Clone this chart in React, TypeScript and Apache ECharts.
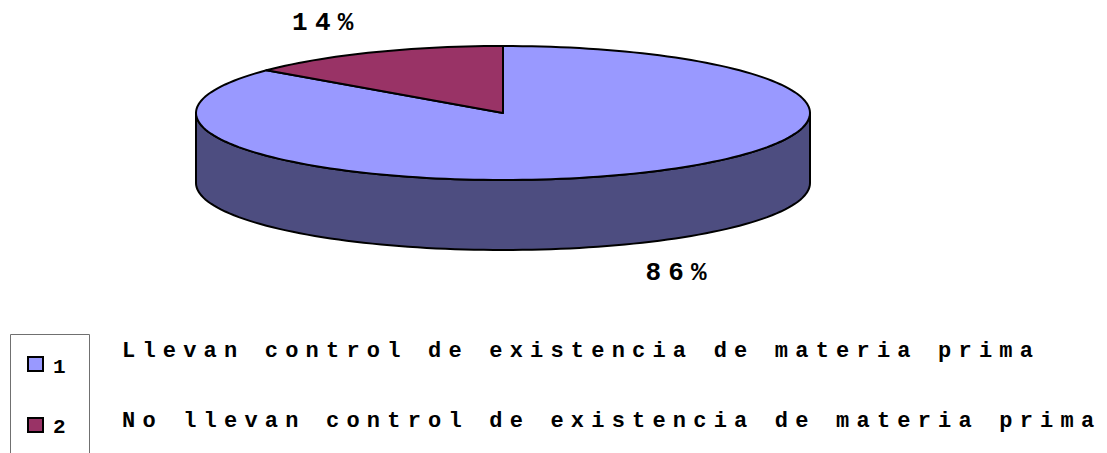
import React, { useEffect, useRef } from 'react';
import * as echarts from 'echarts';

const categories = ['1', '2'];
const descriptions = [
  'Llevan control de existencia de materia prima',
  'No llevan control de existencia de materia prima',
];
const values = [86, 14];
const topColors = ['#9999FF', '#993366'];
const sideColors = ['#4D4D80', '#4D1A33'];

const CX = 503;
const CY = 113;
const RX = 307;
const RY = 67;
const DEPTH = 70;
const LABEL_RX = 415;
const LABEL_RY = 100;
const MONO = 'Courier New, Liberation Mono, monospace';

const total = values.reduce((a, b) => a + b, 0);

function pt(t: number, dy = 0): number[] {
  return [CX + RX * Math.sin(t), CY - RY * Math.cos(t) + dy];
}

function arc(s: number, e: number, dy = 0): number[][] {
  const n = Math.max(2, Math.ceil(((e - s) / (Math.PI * 2)) * 200));
  const out: number[][] = [];
  for (let k = 0; k <= n; k++) out.push(pt(s + ((e - s) * k) / n, dy));
  return out;
}

export default function App() {
  const ref = useRef<HTMLDivElement>(null);
  useEffect(() => {
    if (!ref.current) return;
    const chart = echarts.init(ref.current, undefined, { renderer: 'svg' });
    const renderItem = (params: any, api: any) => {
      const idx = params.dataIndex;
      const v = api.value(0);
      let before = 0;
      for (let k = 0; k < idx; k++) before += values[k];
      const start = (before / total) * Math.PI * 2;
      const end = start + (v / total) * Math.PI * 2;
      const children: any[] = [];
      const s = Math.max(start, Math.PI / 2);
      const e = Math.min(end, (Math.PI * 3) / 2);
      if (s < e) {
        const pts = arc(s, e, 0).concat(arc(s, e, DEPTH).reverse());
        children.push({
          type: 'polygon',
          z2: 1,
          shape: { points: pts },
          style: { fill: sideColors[idx], stroke: '#000', lineWidth: 2, lineJoin: 'round' },
        });
      }
      children.push({
        type: 'polygon',
        z2: 2,
        shape: { points: [[CX, CY]].concat(arc(start, end)) },
        style: { fill: topColors[idx], stroke: '#000', lineWidth: 2, lineJoin: 'round' },
      });
      const mid = (start + end) / 2;
      const lx = CX + LABEL_RX * Math.sin(mid);
      const ly = CY - LABEL_RY * Math.cos(mid) + (Math.cos(mid) < 0 ? DEPTH : 0);
      children.push({
        type: 'text',
        z2: 3,
        x: lx,
        y: ly,
        style: {
          text: v + '%',
          fontSize: 26,
          fontWeight: 'bold',
          fontFamily: MONO,
          fill: '#000',
          align: 'center',
          verticalAlign: 'middle',
        },
      });
      return { type: 'group', children };
    };

    const graphic: any[] = [
      {
        type: 'polyline',
        shape: { points: [[10.5, 453], [10.5, 334.5], [89.5, 334.5], [89.5, 453]] },
        style: { stroke: '#707070', lineWidth: 1, fill: 'none' },
      },
    ];
    categories.forEach((c, i) => {
      graphic.push({
        type: 'rect',
        shape: { x: 28, y: 357 + i * 61, width: 15, height: 14 },
        style: { fill: topColors[i], stroke: '#000', lineWidth: 2 },
      });
      graphic.push({
        type: 'text',
        x: 53,
        y: 367 + i * 60,
        style: {
          text: c,
          fontSize: 21,
          fontWeight: 'bold',
          fontFamily: MONO,
          fill: '#000',
          align: 'left',
          verticalAlign: 'middle',
        },
      });
      graphic.push({
        type: 'text',
        x: 122,
        y: 351 + i * 70.5,
        style: {
          text: descriptions[i],
          fontSize: 22,
          fontWeight: 'bold',
          fontFamily: MONO,
          fill: '#000',
          align: 'left',
          verticalAlign: 'middle',
        },
      });
    });

    chart.setOption({
      animation: false,
      backgroundColor: '#ffffff',
      series: [
        {
          type: 'custom',
          coordinateSystem: 'none',
          renderItem,
          data: values.map((v, i) => ({ name: categories[i], value: [v, i] })),
          silent: true,
        },
      ],
      graphic,
    });
    return () => chart.dispose();
  }, []);
  return (
    <div
      ref={ref}
      style={{
        position: 'fixed',
        left: 0,
        top: 0,
        width: 1107,
        height: 453,
        letterSpacing: '7.2px',
      }}
    />
  );
}
